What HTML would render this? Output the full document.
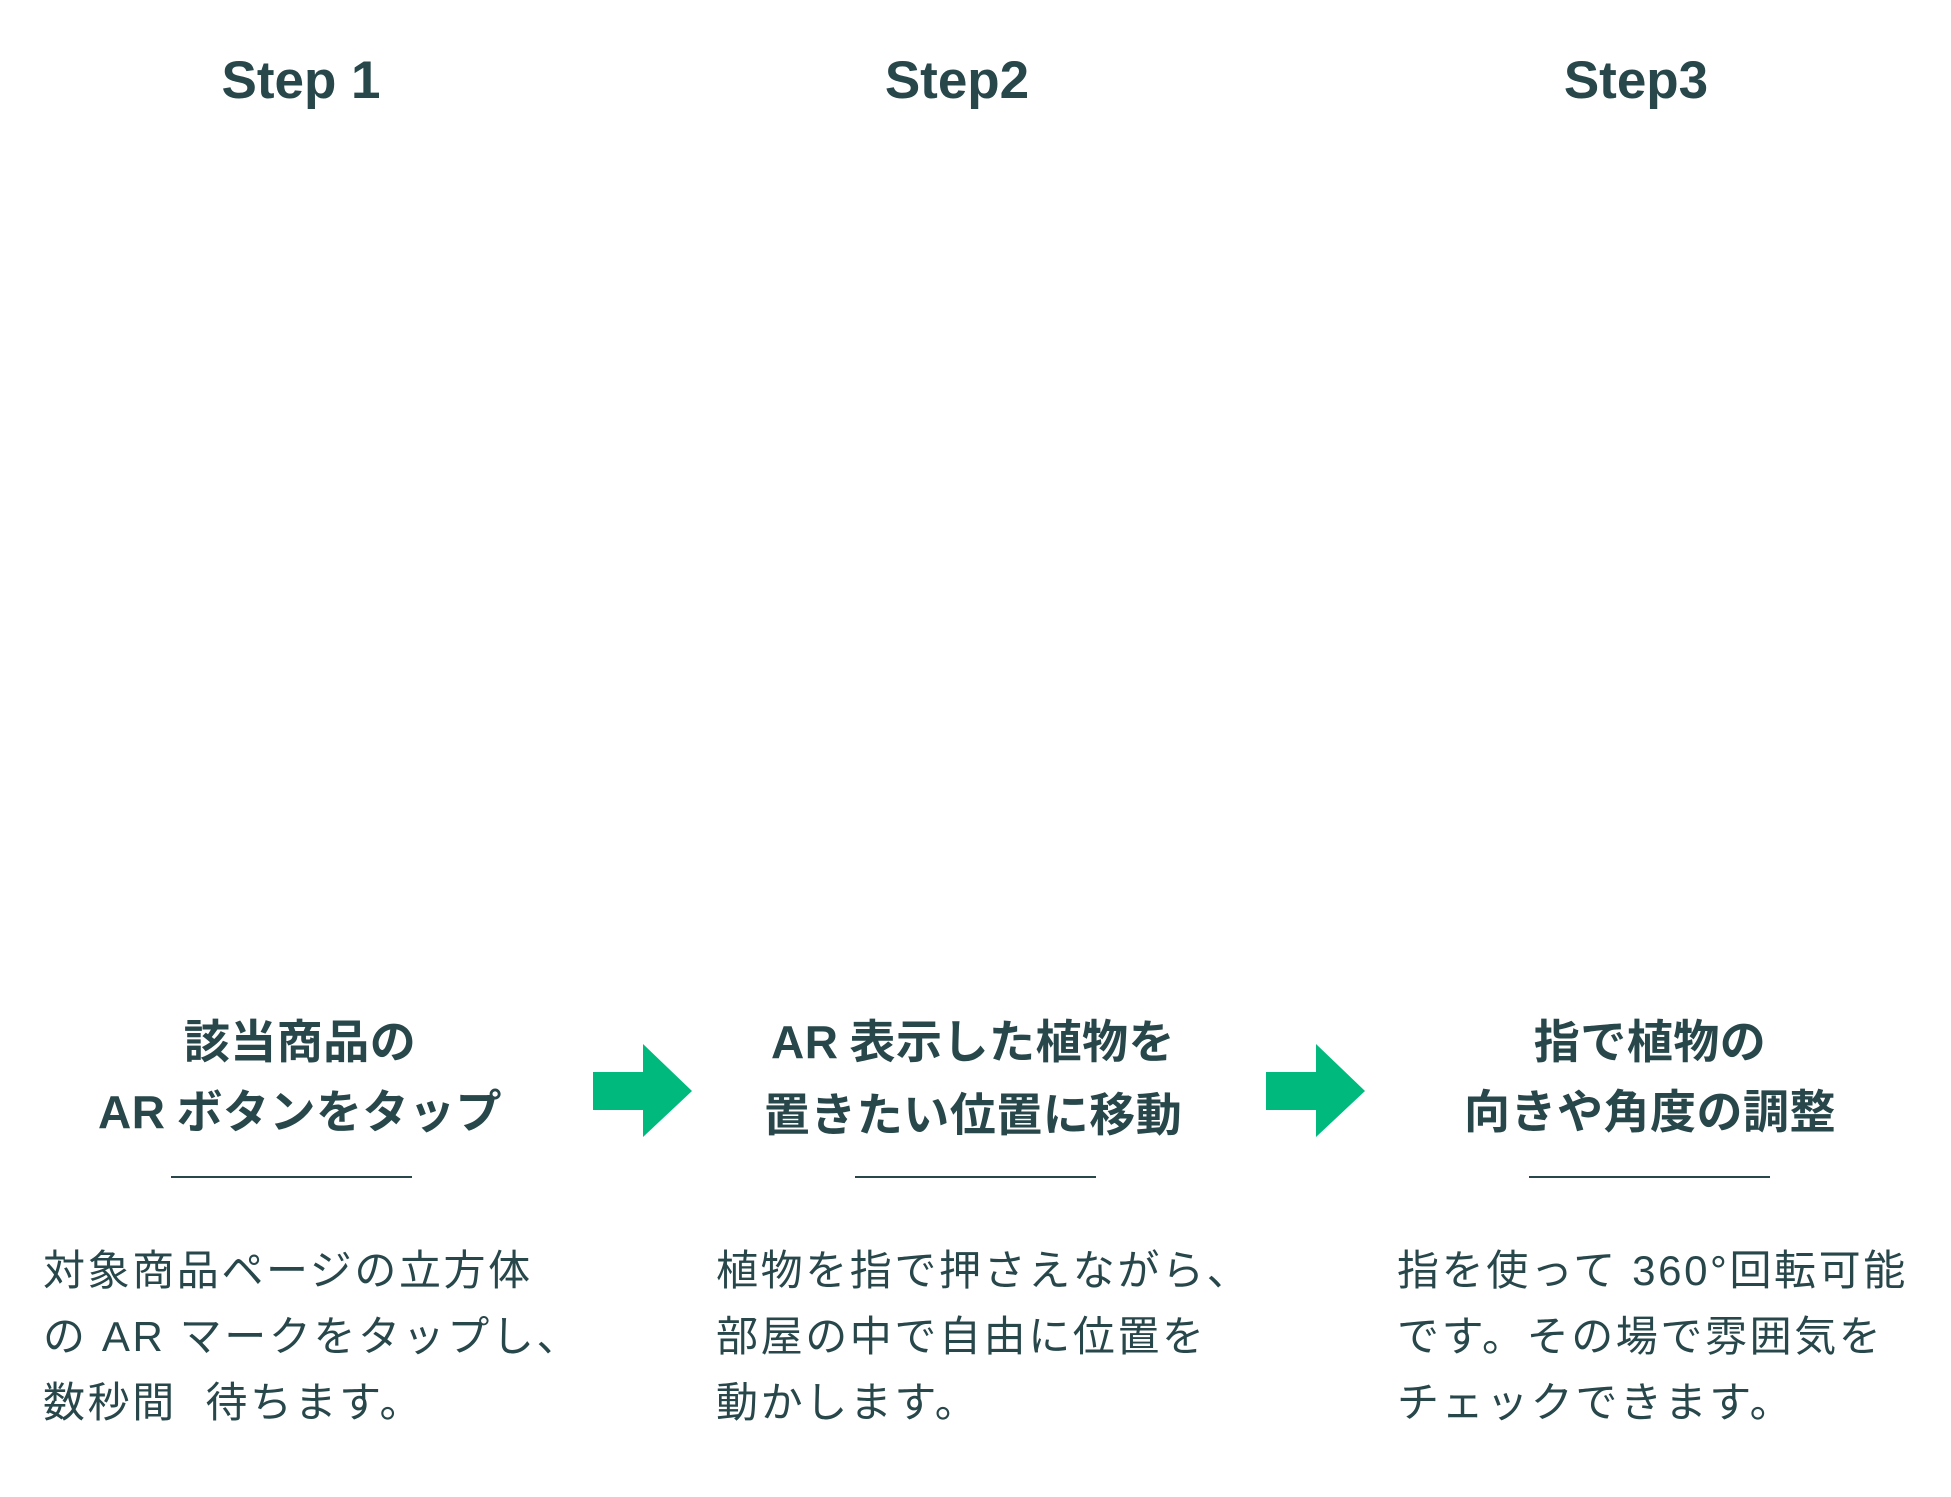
<!DOCTYPE html>
<html><head><meta charset="utf-8"><style>
html,body{margin:0;padding:0;background:#fff;}
body{width:1951px;height:1497px;position:relative;overflow:hidden;color:#27474b;font-family:"Liberation Sans","Noto Sans CJK JP",sans-serif;}
.step{position:absolute;top:46px;width:400px;text-align:center;font-size:53px;font-weight:bold;line-height:70px;}
.title{position:absolute;top:1004px;width:600px;text-align:center;font-size:46px;font-weight:bold;line-height:70px;font-family:"Noto Sans CJK JP","Liberation Sans",sans-serif;letter-spacing:0.5px;}
.title .l{font-family:"Liberation Sans",sans-serif;}
.rule{position:absolute;top:1176px;height:2px;width:241px;background:#27474b;}
.body{position:absolute;top:1238px;font-size:42px;line-height:66px;letter-spacing:2.6px;white-space:nowrap;font-family:"Liberation Sans","Noto Sans CJK JP",sans-serif;}
svg{position:absolute;}
</style></head><body>
<div class="step" style="left:101px">Step 1</div>
<div class="step" style="left:757px">Step2</div>
<div class="step" style="left:1436px">Step3</div>

<div class="title" style="left:0px">該当商品の<br><span class="l">AR</span> ボタンをタップ</div>
<div class="title" style="left:673px"><span class="l">AR</span> 表示した植物を<br>置きたい位置に移動</div>
<div class="title" style="left:1350px">指で植物の<br>向きや角度の調整</div>

<div class="rule" style="left:171px"></div>
<div class="rule" style="left:855px"></div>
<div class="rule" style="left:1529px"></div>

<svg style="left:593px;top:1044px" width="100" height="94" viewBox="0 0 100 94"><polygon points="0,28 50,28 50,0 99,47 50,93 50,66 0,66" fill="#00b97c"/></svg>
<svg style="left:1266px;top:1044px" width="100" height="94" viewBox="0 0 100 94"><polygon points="0,28 50,28 50,0 99,47 50,93 50,66 0,66" fill="#00b97c"/></svg>

<div class="body" style="left:43px">対象商品ページの立方体<br>の AR マークをタップし、<br>数秒間&nbsp;&nbsp;待ちます。</div>
<div class="body" style="left:716px">植物を指で押さえながら、<br>部屋の中で自由に位置を<br>動かします。</div>
<div class="body" style="left:1397px">指を使って 360°回転可能<br>です。その場で雰囲気を<br>チェックできます。</div>
</body></html>
